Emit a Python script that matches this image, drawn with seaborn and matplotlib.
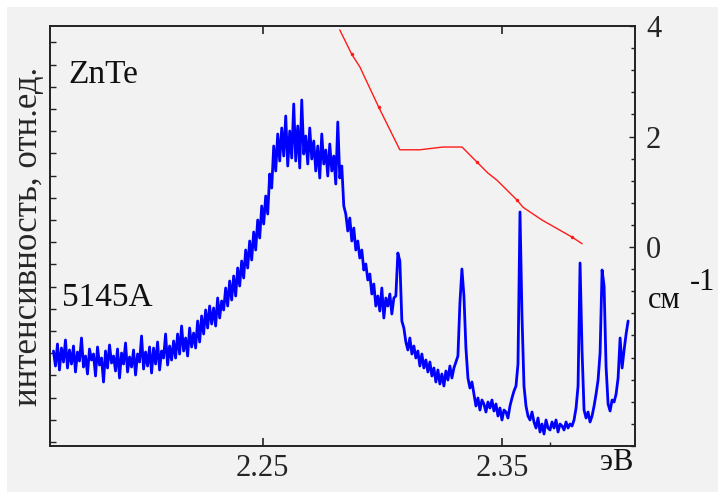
import numpy as np
import pandas as pd
import matplotlib
matplotlib.use("Agg")
import matplotlib.pyplot as plt
import seaborn as sns
from matplotlib.patches import Rectangle
from matplotlib import font_manager

# PL spectrum (arb. units), sampled on the spectrometer grid
energy_start = 2.16255
energy_stop = 2.40272
intensity = [
    95, 80, 102, 76, 98, 84, 106, 78, 96, 82,
    100, 74, 94, 85, 108, 79, 90, 72, 97, 86,
    92, 70, 99, 81, 88, 64, 95, 78, 101, 83,
    90, 75, 97, 68, 93, 82, 103, 74, 89, 79,
    96, 71, 92, 84, 110, 77, 94, 80, 99, 73,
    98, 82, 104, 76, 95, 88, 112, 81, 100, 86,
    105, 88, 112, 92, 120, 95, 108, 90, 118, 99,
    113, 98, 125, 104, 130, 112, 136, 118, 140, 122,
    138, 120, 148, 128, 145, 136, 158, 140, 165, 146,
    170, 150, 178, 160, 185, 168, 196, 178, 205, 186,
    214, 196, 226, 208, 240, 222, 250, 232, 272, 258,
    300, 275, 312, 285, 318, 290, 330, 280, 315, 288,
    342, 285, 320, 278, 346, 292, 310, 282, 318, 287,
    305, 275, 300, 268, 312, 282, 296, 270, 302, 275,
    290, 262, 324, 268, 280, 240, 232, 215, 228, 205,
    218, 196, 205, 188, 196, 176, 182, 166, 172, 152,
    162, 140, 150, 135, 158, 128, 148, 140, 152, 132,
    148, 150, 193, 185, 125, 118, 104, 96, 108, 92,
    100, 88, 95, 80, 92, 78, 86, 74, 84, 70,
    78, 64, 76, 62, 72, 60, 75, 66, 80, 68,
    78, 84, 90, 143, 177, 150, 98, 68, 58, 64,
    52, 40, 48, 36, 46, 42, 34, 44, 38, 46,
    35, 42, 30, 38, 26, 36, 34, 28, 40, 48,
    55, 60, 82, 234, 130, 60, 40, 30, 26, 34,
    24, 18, 28, 14, 22, 12, 26, 18, 16, 24,
    18, 26, 14, 22, 20, 16, 24, 18, 22, 20,
    26, 38, 60, 183, 95, 36, 28, 34, 24, 30,
    40, 52, 66, 93, 176, 160, 79, 42, 35, 46,
    44, 52, 68, 108, 78, 96, 112, 125,
]
energy = np.linspace(energy_start, energy_stop, len(intensity))

# absorption-like curve on the right axis (cm^-1)
red_energy = [2.2822, 2.2872, 2.2906, 2.2985, 2.3073, 2.3157, 2.3253, 2.3333,
              2.3395, 2.3441, 2.3479, 2.3563, 2.3588, 2.3667, 2.3793, 2.3835]
red_value = [3.93, 3.49, 3.26, 2.53, 1.76, 1.76, 1.81, 1.81,
             1.54, 1.34, 1.21, 0.85, 0.72, 0.49, 0.18, 0.06]

x_ticks = [2.25, 2.35]
right_ticks = [0, 2, 4]

sns.set_theme(style="ticks")

# Times-like serif, whichever is installed
installed = set(f.name for f in font_manager.fontManager.ttflist)
serif = next((n for n in ['Liberation Serif', 'Tinos', 'Times New Roman', 'TeX Gyre Termes',
                          'Nimbus Roman', 'PT Serif', 'Noto Serif', 'DejaVu Serif']
              if n in installed), 'DejaVu Serif')
plt.rcParams['font.family'] = [serif, 'DejaVu Serif']

bg = '#f2f2f2'
fig = plt.figure(figsize=(7.18, 4.92), dpi=100, facecolor='white')
fig.patches.append(Rectangle((7 / 718, 0), 1, 1 - 7 / 492, transform=fig.transFigure,
                             facecolor=bg, edgecolor='none', zorder=-10))
ax = fig.add_axes([50 / 718, 1 - 446 / 492, 585 / 718, 420 / 492])
ax.set_facecolor(bg)

spec = pd.DataFrame({'energy': energy, 'intensity': intensity})
sns.lineplot(data=spec, x='energy', y='intensity', ax=ax, color='#0000ff',
             linewidth=2.0, estimator=None, sort=False)
ax.set_xlim(2.1611, 2.4056)
ax.set_ylim(0, 420)
ax.set_yticks(np.arange(4, 420, 22.2))
ax.set_xticks(x_ticks)
ax.set_xticks([2.37], minor=True)
ax.set_xticklabels([f"{t:.2f}" for t in x_ticks])
ax.tick_params(axis='y', which='both', direction='in', left=True, right=False,
               labelleft=False, length=4, width=1, color='#222222')
ax.tick_params(axis='x', which='major', direction='in', top=True, length=6,
               width=1.2, color='#222222', labelsize=22, pad=6)
ax.tick_params(axis='x', which='minor', direction='in', top=False, length=3,
               width=1, color='#222222')
ax.set_xlabel('')
ax.set_ylabel('интенсивность, отн.ед.', fontsize=25)
ax.yaxis.set_label_coords(-5 / 585, 0.5)
for s in ax.spines.values():
    s.set_visible(True)
    s.set_linewidth(1.2)
    s.set_color('#222222')

ax2 = ax.twinx()
red = pd.DataFrame({'energy': red_energy, 'value': red_value})
sns.lineplot(data=red, x='energy', y='value', ax=ax2, color='#ff1a1a',
             linewidth=1.0, marker='o', markersize=2.5, markeredgewidth=0,
             markevery=[1, 3, 8, 11, 14], estimator=None, sort=False)
ax2.set_ylim(-3.6, 4.0)
ax2.set_yticks(right_ticks)
ax2.set_yticks(np.arange(-3.6, 4.01, 0.4), minor=True)
ax2.set_yticklabels([str(t) for t in right_ticks])
ax2.tick_params(axis='y', which='major', direction='in', length=4, width=1,
                color='#222222', labelsize=22, pad=8)
ax2.tick_params(axis='y', which='minor', direction='in', length=3, width=1,
                color='#222222')
ax2.set_ylabel('')
ax2.set_xlabel('')
for s in ax2.spines.values():
    s.set_linewidth(1.2)
    s.set_color('#222222')

ax.text(18 / 585, 1 - 49 / 420, 'ZnTe', transform=ax.transAxes, fontsize=24,
        ha='left', va='center', color='#111111')
ax.text(12 / 585, 1 - 272 / 420, '5145A', transform=ax.transAxes, fontsize=24,
        ha='left', va='center', color='#111111')
fig.text(617 / 718, 1 - 463 / 492, 'эВ', fontsize=22, ha='center', va='center',
         color='#111111')
fig.text(648 / 718, 1 - 300 / 492, 'см', fontsize=22, ha='left', va='center',
         color='#111111')
fig.text(690 / 718, 1 - 282 / 492, '-1', fontsize=22, ha='left', va='center',
         color='#111111')

fig.savefig('out.png', dpi=100, facecolor=fig.get_facecolor())
